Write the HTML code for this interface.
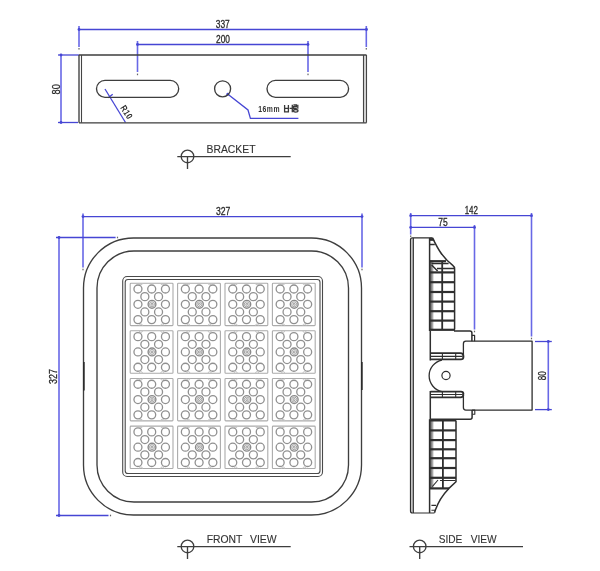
<!DOCTYPE html>
<html><head><meta charset="utf-8"><style>
html,body{margin:0;padding:0;background:#fff;}
svg{display:block;}
text{-webkit-font-smoothing:antialiased;}
</style></head><body>
<svg width="600" height="571" viewBox="0 0 600 571" style="will-change:transform">
<rect width="600" height="571" fill="#fff"/>
<path d="M79 29.5H366.5" stroke="#4646d4" stroke-width="1.3" fill="none"/>
<path d="M79 26V47" stroke="#6868e6" stroke-width="1.6" fill="none"/>
<path d="M366.3 26V47" stroke="#6868e6" stroke-width="1.6" fill="none"/>
<rect x="78.4" y="48.0" width="1.2" height="1.6" fill="#666"/>
<rect x="365.7" y="48.0" width="1.2" height="1.6" fill="#666"/>
<path d="M137.5 44.5H308" stroke="#4646d4" stroke-width="1.3" fill="none"/>
<path d="M137.5 41V72" stroke="#6868e6" stroke-width="1.6" fill="none"/>
<path d="M308 41V72" stroke="#6868e6" stroke-width="1.6" fill="none"/>
<rect x="136.9" y="73.60000000000001" width="1.2" height="1.6" fill="#666"/>
<rect x="307.4" y="73.60000000000001" width="1.2" height="1.6" fill="#666"/>
<path d="M61 55V122.5" stroke="#6868e6" stroke-width="1.6" fill="none"/>
<path d="M58 55H79" stroke="#4646d4" stroke-width="1.3" fill="none"/>
<path d="M58 122.5H78" stroke="#4646d4" stroke-width="1.3" fill="none"/>
<path d="M105 89L125.5 122.5" stroke="#4646d4" stroke-width="1.3" fill="none"/>
<path d="M108.3 97.8L112.7 94.2" stroke="#4646d4" stroke-width="1.3" fill="none"/>
<path d="M227.6 94L248 110L250.4 118.4H298.4" stroke="#4646d4" stroke-width="1.3" fill="none"/>
<circle cx="79" cy="29.5" r="1.4" fill="#4646d4"/>
<circle cx="366.5" cy="29.5" r="1.4" fill="#4646d4"/>
<circle cx="137.5" cy="44.5" r="1.4" fill="#4646d4"/>
<circle cx="308" cy="44.5" r="1.4" fill="#4646d4"/>
<circle cx="61" cy="55" r="1.4" fill="#4646d4"/>
<circle cx="61" cy="122.5" r="1.4" fill="#4646d4"/>
<circle cx="227.8" cy="94.2" r="1.4" fill="#4646d4"/>
<g stroke="#3e3e3e" stroke-width="1.35" fill="none">
<rect x="364" y="55.5" width="2" height="67" fill="#d8d8d8" stroke="none"/>
<path d="M79 55H366.5 M79 122.8H366.5 M79 55V122.8" />
<path d="M366.5 55V122.8 M363.5 55V122.8" stroke-width="1.1" stroke="#454545"/>
<path d="M81.5 55V122.8" stroke-width="1.1" stroke="#454545"/>
<rect x="96.5" y="80.4" width="82.2" height="16.9" rx="8.45" ry="8.45"/>
<rect x="267" y="80.4" width="81.6" height="16.9" rx="8.45" ry="8.45"/>
<circle cx="222.6" cy="88.8" r="8.0"/>
</g>
<text x="215.8" y="27.6" font-family="Liberation Sans, sans-serif" font-size="10.5" fill="#2a2a2a" text-anchor="start" textLength="14" lengthAdjust="spacingAndGlyphs" stroke="#2a2a2a" stroke-width="0.3">337</text>
<text x="216" y="42.8" font-family="Liberation Sans, sans-serif" font-size="10.5" fill="#2a2a2a" text-anchor="start" textLength="14" lengthAdjust="spacingAndGlyphs" stroke="#2a2a2a" stroke-width="0.3">200</text>
<text x="59.7" y="89.3" font-family="Liberation Sans, sans-serif" font-size="10.8" fill="#2a2a2a" text-anchor="middle" textLength="10.3" lengthAdjust="spacingAndGlyphs" transform="rotate(-90 59.7 89.3)" stroke="#2a2a2a" stroke-width="0.3">80</text>
<g transform="translate(123.9 113.9) rotate(58.5)"><text x="0" y="0" transform="scale(0.8 1)" font-family="Liberation Sans, sans-serif" font-size="9.2" fill="#2a2a2a" text-anchor="middle" letter-spacing="0.5" font-weight="bold">R10</text></g>
<text x="258.2" y="111.7" font-family="Liberation Sans, sans-serif" font-size="8.2" fill="#333" text-anchor="start" textLength="21.8" lengthAdjust="spacingAndGlyphs" font-weight="bold" letter-spacing="0.6">16mm</text>
<g stroke="#383838" stroke-width="1.3" fill="none"><path d="M284.6 105V111.8H288.4V105 M284.6 108.3H288.4 M292.3 104.7V112.2 M289.6 108.4H292.3"/><path d="M293.4 105H296.4V106.7H293.6V108.4H296.8 M297.8 104.7V108.8"/><ellipse cx="295.7" cy="110.8" rx="2.3" ry="1.3"/></g>
<g stroke="#3e3e3e" stroke-width="1.35" fill="none"><circle cx="187.5" cy="156.4" r="6.3"/><path d="M177.3 156.6H290.7 M187.5 156.5V169"/></g>
<text x="206.5" y="153.3" font-family="Liberation Sans, sans-serif" font-size="11" fill="#333" text-anchor="start" textLength="49.1" lengthAdjust="spacingAndGlyphs" stroke="#333" stroke-width="0.12">BRACKET</text>
<g stroke="#3e3e3e" stroke-width="1.35" fill="none"><circle cx="187.5" cy="546.4" r="6.3"/><path d="M177.3 546.6H290.7 M187.5 546.5V559"/></g>
<text x="206.7" y="543.3" font-family="Liberation Sans, sans-serif" font-size="11" fill="#333" text-anchor="start" textLength="35.7" lengthAdjust="spacingAndGlyphs" stroke="#333" stroke-width="0.12">FRONT</text>
<text x="250" y="543.3" font-family="Liberation Sans, sans-serif" font-size="11" fill="#333" text-anchor="start" textLength="26.7" lengthAdjust="spacingAndGlyphs" stroke="#333" stroke-width="0.12">VIEW</text>
<g stroke="#3e3e3e" stroke-width="1.35" fill="none"><circle cx="419.7" cy="546.4" r="6.3"/><path d="M409.5 546.6H523 M419.7 546.5V559"/></g>
<text x="438.7" y="543.3" font-family="Liberation Sans, sans-serif" font-size="11" fill="#333" text-anchor="start" textLength="23.6" lengthAdjust="spacingAndGlyphs" stroke="#333" stroke-width="0.12">SIDE</text>
<text x="470.7" y="543.3" font-family="Liberation Sans, sans-serif" font-size="11" fill="#333" text-anchor="start" textLength="26" lengthAdjust="spacingAndGlyphs" stroke="#333" stroke-width="0.12">VIEW</text>
<path d="M83 216.6H362" stroke="#4646d4" stroke-width="1.3" fill="none"/>
<path d="M83 213.6V267.5" stroke="#6868e6" stroke-width="1.6" fill="none"/>
<path d="M362 213.6V267.5" stroke="#6868e6" stroke-width="1.6" fill="none"/>
<rect x="82.4" y="268.7" width="1.2" height="1.6" fill="#666"/>
<rect x="361.4" y="268.7" width="1.2" height="1.6" fill="#666"/>
<path d="M59 237.5V515.5" stroke="#6868e6" stroke-width="1.6" fill="none"/>
<path d="M56 237.5H115.6" stroke="#4646d4" stroke-width="1.3" fill="none"/>
<path d="M56 515.5H108.5" stroke="#4646d4" stroke-width="1.3" fill="none"/>
<rect x="109.9" y="514.7" width="1.2" height="1.6" fill="#666"/>
<rect x="116.9" y="236.7" width="1.2" height="1.6" fill="#666"/>
<circle cx="83" cy="216.6" r="1.4" fill="#4646d4"/>
<circle cx="362" cy="216.6" r="1.4" fill="#4646d4"/>
<circle cx="59" cy="237.5" r="1.4" fill="#4646d4"/>
<circle cx="59" cy="515.5" r="1.4" fill="#4646d4"/>
<text x="215.9" y="214.8" font-family="Liberation Sans, sans-serif" font-size="10.5" fill="#2a2a2a" text-anchor="start" textLength="14.4" lengthAdjust="spacingAndGlyphs" stroke="#2a2a2a" stroke-width="0.3">327</text>
<text x="57.2" y="376.5" font-family="Liberation Sans, sans-serif" font-size="10.5" fill="#2a2a2a" text-anchor="middle" textLength="14.9" lengthAdjust="spacingAndGlyphs" transform="rotate(-90 57.2 376.5)" stroke="#2a2a2a" stroke-width="0.3">327</text>
<g stroke="#3e3e3e" stroke-width="1.35" fill="none">
<rect x="83.5" y="238" width="278" height="277" rx="50" ry="50"/>
<rect x="97" y="251" width="251.5" height="251" rx="37" ry="37"/>
<rect x="122.7" y="276.5" width="199.8" height="200" rx="4.5" ry="4.5" stroke-width="1.1" stroke="#4a4a4a"/>
<rect x="125.2" y="279.5" width="194.8" height="194" rx="2.8" ry="2.8" stroke-width="1.1" stroke="#4a4a4a"/>
</g>
<path d="M84.0 362V390.5 M362.0 362V390" stroke="#222" stroke-width="1.3"/>
<g fill="none">
<rect x="130.2" y="283.2" width="42.8" height="42.4" rx="0.8" stroke="#ababab" stroke-width="1.1"/>
<path d="M139.3 283.2A1.6 1.6 0 0 0 142.5 283.2 M139.3 325.6A1.6 1.6 0 0 1 142.5 325.6 M160.7 283.2A1.6 1.6 0 0 0 163.9 283.2 M160.7 325.6A1.6 1.6 0 0 1 163.9 325.6" stroke="#c4c4c4" stroke-width="1"/>
<circle cx="137.95" cy="289.00" r="4" stroke="#909090" stroke-width="1.3"/>
<circle cx="151.70" cy="289.00" r="4" stroke="#909090" stroke-width="1.3"/>
<circle cx="165.45" cy="289.00" r="4" stroke="#909090" stroke-width="1.3"/>
<circle cx="144.85" cy="296.65" r="4" stroke="#909090" stroke-width="1.3"/>
<circle cx="158.55" cy="296.65" r="4" stroke="#909090" stroke-width="1.3"/>
<circle cx="137.95" cy="304.30" r="4" stroke="#909090" stroke-width="1.3"/>
<circle cx="165.45" cy="304.30" r="4" stroke="#909090" stroke-width="1.3"/>
<circle cx="144.85" cy="311.95" r="4" stroke="#909090" stroke-width="1.3"/>
<circle cx="158.55" cy="311.95" r="4" stroke="#909090" stroke-width="1.3"/>
<circle cx="137.95" cy="319.60" r="4" stroke="#909090" stroke-width="1.3"/>
<circle cx="151.70" cy="319.60" r="4" stroke="#909090" stroke-width="1.3"/>
<circle cx="165.45" cy="319.60" r="4" stroke="#909090" stroke-width="1.3"/>
<circle cx="152.00" cy="304.30" r="3.9" stroke="#8a8a8a" stroke-width="1.4"/>
<circle cx="152.00" cy="304.30" r="2.5" stroke="#a4a4a4" stroke-width="1.0"/>
<circle cx="152.00" cy="304.30" r="1.0" stroke="#8c8c8c" stroke-width="0.9"/>
<rect x="177.6" y="283.2" width="42.8" height="42.4" rx="0.8" stroke="#ababab" stroke-width="1.1"/>
<path d="M186.7 283.2A1.6 1.6 0 0 0 189.9 283.2 M186.7 325.6A1.6 1.6 0 0 1 189.9 325.6 M208.1 283.2A1.6 1.6 0 0 0 211.3 283.2 M208.1 325.6A1.6 1.6 0 0 1 211.3 325.6" stroke="#c4c4c4" stroke-width="1"/>
<circle cx="185.35" cy="289.00" r="4" stroke="#909090" stroke-width="1.3"/>
<circle cx="199.10" cy="289.00" r="4" stroke="#909090" stroke-width="1.3"/>
<circle cx="212.85" cy="289.00" r="4" stroke="#909090" stroke-width="1.3"/>
<circle cx="192.25" cy="296.65" r="4" stroke="#909090" stroke-width="1.3"/>
<circle cx="205.95" cy="296.65" r="4" stroke="#909090" stroke-width="1.3"/>
<circle cx="185.35" cy="304.30" r="4" stroke="#909090" stroke-width="1.3"/>
<circle cx="212.85" cy="304.30" r="4" stroke="#909090" stroke-width="1.3"/>
<circle cx="192.25" cy="311.95" r="4" stroke="#909090" stroke-width="1.3"/>
<circle cx="205.95" cy="311.95" r="4" stroke="#909090" stroke-width="1.3"/>
<circle cx="185.35" cy="319.60" r="4" stroke="#909090" stroke-width="1.3"/>
<circle cx="199.10" cy="319.60" r="4" stroke="#909090" stroke-width="1.3"/>
<circle cx="212.85" cy="319.60" r="4" stroke="#909090" stroke-width="1.3"/>
<circle cx="199.40" cy="304.30" r="3.9" stroke="#8a8a8a" stroke-width="1.4"/>
<circle cx="199.40" cy="304.30" r="2.5" stroke="#a4a4a4" stroke-width="1.0"/>
<circle cx="199.40" cy="304.30" r="1.0" stroke="#8c8c8c" stroke-width="0.9"/>
<rect x="225.0" y="283.2" width="42.8" height="42.4" rx="0.8" stroke="#ababab" stroke-width="1.1"/>
<path d="M234.1 283.2A1.6 1.6 0 0 0 237.3 283.2 M234.1 325.6A1.6 1.6 0 0 1 237.3 325.6 M255.5 283.2A1.6 1.6 0 0 0 258.7 283.2 M255.5 325.6A1.6 1.6 0 0 1 258.7 325.6" stroke="#c4c4c4" stroke-width="1"/>
<circle cx="232.75" cy="289.00" r="4" stroke="#909090" stroke-width="1.3"/>
<circle cx="246.50" cy="289.00" r="4" stroke="#909090" stroke-width="1.3"/>
<circle cx="260.25" cy="289.00" r="4" stroke="#909090" stroke-width="1.3"/>
<circle cx="239.65" cy="296.65" r="4" stroke="#909090" stroke-width="1.3"/>
<circle cx="253.35" cy="296.65" r="4" stroke="#909090" stroke-width="1.3"/>
<circle cx="232.75" cy="304.30" r="4" stroke="#909090" stroke-width="1.3"/>
<circle cx="260.25" cy="304.30" r="4" stroke="#909090" stroke-width="1.3"/>
<circle cx="239.65" cy="311.95" r="4" stroke="#909090" stroke-width="1.3"/>
<circle cx="253.35" cy="311.95" r="4" stroke="#909090" stroke-width="1.3"/>
<circle cx="232.75" cy="319.60" r="4" stroke="#909090" stroke-width="1.3"/>
<circle cx="246.50" cy="319.60" r="4" stroke="#909090" stroke-width="1.3"/>
<circle cx="260.25" cy="319.60" r="4" stroke="#909090" stroke-width="1.3"/>
<circle cx="246.80" cy="304.30" r="3.9" stroke="#8a8a8a" stroke-width="1.4"/>
<circle cx="246.80" cy="304.30" r="2.5" stroke="#a4a4a4" stroke-width="1.0"/>
<circle cx="246.80" cy="304.30" r="1.0" stroke="#8c8c8c" stroke-width="0.9"/>
<rect x="272.4" y="283.2" width="42.8" height="42.4" rx="0.8" stroke="#ababab" stroke-width="1.1"/>
<path d="M281.5 283.2A1.6 1.6 0 0 0 284.7 283.2 M281.5 325.6A1.6 1.6 0 0 1 284.7 325.6 M302.9 283.2A1.6 1.6 0 0 0 306.1 283.2 M302.9 325.6A1.6 1.6 0 0 1 306.1 325.6" stroke="#c4c4c4" stroke-width="1"/>
<circle cx="280.15" cy="289.00" r="4" stroke="#909090" stroke-width="1.3"/>
<circle cx="293.90" cy="289.00" r="4" stroke="#909090" stroke-width="1.3"/>
<circle cx="307.65" cy="289.00" r="4" stroke="#909090" stroke-width="1.3"/>
<circle cx="287.05" cy="296.65" r="4" stroke="#909090" stroke-width="1.3"/>
<circle cx="300.75" cy="296.65" r="4" stroke="#909090" stroke-width="1.3"/>
<circle cx="280.15" cy="304.30" r="4" stroke="#909090" stroke-width="1.3"/>
<circle cx="307.65" cy="304.30" r="4" stroke="#909090" stroke-width="1.3"/>
<circle cx="287.05" cy="311.95" r="4" stroke="#909090" stroke-width="1.3"/>
<circle cx="300.75" cy="311.95" r="4" stroke="#909090" stroke-width="1.3"/>
<circle cx="280.15" cy="319.60" r="4" stroke="#909090" stroke-width="1.3"/>
<circle cx="293.90" cy="319.60" r="4" stroke="#909090" stroke-width="1.3"/>
<circle cx="307.65" cy="319.60" r="4" stroke="#909090" stroke-width="1.3"/>
<circle cx="294.20" cy="304.30" r="3.9" stroke="#8a8a8a" stroke-width="1.4"/>
<circle cx="294.20" cy="304.30" r="2.5" stroke="#a4a4a4" stroke-width="1.0"/>
<circle cx="294.20" cy="304.30" r="1.0" stroke="#8c8c8c" stroke-width="0.9"/>
<rect x="130.2" y="330.8" width="42.8" height="42.4" rx="0.8" stroke="#ababab" stroke-width="1.1"/>
<path d="M139.3 330.8A1.6 1.6 0 0 0 142.5 330.8 M139.3 373.2A1.6 1.6 0 0 1 142.5 373.2 M160.7 330.8A1.6 1.6 0 0 0 163.9 330.8 M160.7 373.2A1.6 1.6 0 0 1 163.9 373.2" stroke="#c4c4c4" stroke-width="1"/>
<circle cx="137.95" cy="336.63" r="4" stroke="#909090" stroke-width="1.3"/>
<circle cx="151.70" cy="336.63" r="4" stroke="#909090" stroke-width="1.3"/>
<circle cx="165.45" cy="336.63" r="4" stroke="#909090" stroke-width="1.3"/>
<circle cx="144.85" cy="344.28" r="4" stroke="#909090" stroke-width="1.3"/>
<circle cx="158.55" cy="344.28" r="4" stroke="#909090" stroke-width="1.3"/>
<circle cx="137.95" cy="351.93" r="4" stroke="#909090" stroke-width="1.3"/>
<circle cx="165.45" cy="351.93" r="4" stroke="#909090" stroke-width="1.3"/>
<circle cx="144.85" cy="359.58" r="4" stroke="#909090" stroke-width="1.3"/>
<circle cx="158.55" cy="359.58" r="4" stroke="#909090" stroke-width="1.3"/>
<circle cx="137.95" cy="367.23" r="4" stroke="#909090" stroke-width="1.3"/>
<circle cx="151.70" cy="367.23" r="4" stroke="#909090" stroke-width="1.3"/>
<circle cx="165.45" cy="367.23" r="4" stroke="#909090" stroke-width="1.3"/>
<circle cx="152.00" cy="351.93" r="3.9" stroke="#8a8a8a" stroke-width="1.4"/>
<circle cx="152.00" cy="351.93" r="2.5" stroke="#a4a4a4" stroke-width="1.0"/>
<circle cx="152.00" cy="351.93" r="1.0" stroke="#8c8c8c" stroke-width="0.9"/>
<rect x="177.6" y="330.8" width="42.8" height="42.4" rx="0.8" stroke="#ababab" stroke-width="1.1"/>
<path d="M186.7 330.8A1.6 1.6 0 0 0 189.9 330.8 M186.7 373.2A1.6 1.6 0 0 1 189.9 373.2 M208.1 330.8A1.6 1.6 0 0 0 211.3 330.8 M208.1 373.2A1.6 1.6 0 0 1 211.3 373.2" stroke="#c4c4c4" stroke-width="1"/>
<circle cx="185.35" cy="336.63" r="4" stroke="#909090" stroke-width="1.3"/>
<circle cx="199.10" cy="336.63" r="4" stroke="#909090" stroke-width="1.3"/>
<circle cx="212.85" cy="336.63" r="4" stroke="#909090" stroke-width="1.3"/>
<circle cx="192.25" cy="344.28" r="4" stroke="#909090" stroke-width="1.3"/>
<circle cx="205.95" cy="344.28" r="4" stroke="#909090" stroke-width="1.3"/>
<circle cx="185.35" cy="351.93" r="4" stroke="#909090" stroke-width="1.3"/>
<circle cx="212.85" cy="351.93" r="4" stroke="#909090" stroke-width="1.3"/>
<circle cx="192.25" cy="359.58" r="4" stroke="#909090" stroke-width="1.3"/>
<circle cx="205.95" cy="359.58" r="4" stroke="#909090" stroke-width="1.3"/>
<circle cx="185.35" cy="367.23" r="4" stroke="#909090" stroke-width="1.3"/>
<circle cx="199.10" cy="367.23" r="4" stroke="#909090" stroke-width="1.3"/>
<circle cx="212.85" cy="367.23" r="4" stroke="#909090" stroke-width="1.3"/>
<circle cx="199.40" cy="351.93" r="3.9" stroke="#8a8a8a" stroke-width="1.4"/>
<circle cx="199.40" cy="351.93" r="2.5" stroke="#a4a4a4" stroke-width="1.0"/>
<circle cx="199.40" cy="351.93" r="1.0" stroke="#8c8c8c" stroke-width="0.9"/>
<rect x="225.0" y="330.8" width="42.8" height="42.4" rx="0.8" stroke="#ababab" stroke-width="1.1"/>
<path d="M234.1 330.8A1.6 1.6 0 0 0 237.3 330.8 M234.1 373.2A1.6 1.6 0 0 1 237.3 373.2 M255.5 330.8A1.6 1.6 0 0 0 258.7 330.8 M255.5 373.2A1.6 1.6 0 0 1 258.7 373.2" stroke="#c4c4c4" stroke-width="1"/>
<circle cx="232.75" cy="336.63" r="4" stroke="#909090" stroke-width="1.3"/>
<circle cx="246.50" cy="336.63" r="4" stroke="#909090" stroke-width="1.3"/>
<circle cx="260.25" cy="336.63" r="4" stroke="#909090" stroke-width="1.3"/>
<circle cx="239.65" cy="344.28" r="4" stroke="#909090" stroke-width="1.3"/>
<circle cx="253.35" cy="344.28" r="4" stroke="#909090" stroke-width="1.3"/>
<circle cx="232.75" cy="351.93" r="4" stroke="#909090" stroke-width="1.3"/>
<circle cx="260.25" cy="351.93" r="4" stroke="#909090" stroke-width="1.3"/>
<circle cx="239.65" cy="359.58" r="4" stroke="#909090" stroke-width="1.3"/>
<circle cx="253.35" cy="359.58" r="4" stroke="#909090" stroke-width="1.3"/>
<circle cx="232.75" cy="367.23" r="4" stroke="#909090" stroke-width="1.3"/>
<circle cx="246.50" cy="367.23" r="4" stroke="#909090" stroke-width="1.3"/>
<circle cx="260.25" cy="367.23" r="4" stroke="#909090" stroke-width="1.3"/>
<circle cx="246.80" cy="351.93" r="3.9" stroke="#8a8a8a" stroke-width="1.4"/>
<circle cx="246.80" cy="351.93" r="2.5" stroke="#a4a4a4" stroke-width="1.0"/>
<circle cx="246.80" cy="351.93" r="1.0" stroke="#8c8c8c" stroke-width="0.9"/>
<rect x="272.4" y="330.8" width="42.8" height="42.4" rx="0.8" stroke="#ababab" stroke-width="1.1"/>
<path d="M281.5 330.8A1.6 1.6 0 0 0 284.7 330.8 M281.5 373.2A1.6 1.6 0 0 1 284.7 373.2 M302.9 330.8A1.6 1.6 0 0 0 306.1 330.8 M302.9 373.2A1.6 1.6 0 0 1 306.1 373.2" stroke="#c4c4c4" stroke-width="1"/>
<circle cx="280.15" cy="336.63" r="4" stroke="#909090" stroke-width="1.3"/>
<circle cx="293.90" cy="336.63" r="4" stroke="#909090" stroke-width="1.3"/>
<circle cx="307.65" cy="336.63" r="4" stroke="#909090" stroke-width="1.3"/>
<circle cx="287.05" cy="344.28" r="4" stroke="#909090" stroke-width="1.3"/>
<circle cx="300.75" cy="344.28" r="4" stroke="#909090" stroke-width="1.3"/>
<circle cx="280.15" cy="351.93" r="4" stroke="#909090" stroke-width="1.3"/>
<circle cx="307.65" cy="351.93" r="4" stroke="#909090" stroke-width="1.3"/>
<circle cx="287.05" cy="359.58" r="4" stroke="#909090" stroke-width="1.3"/>
<circle cx="300.75" cy="359.58" r="4" stroke="#909090" stroke-width="1.3"/>
<circle cx="280.15" cy="367.23" r="4" stroke="#909090" stroke-width="1.3"/>
<circle cx="293.90" cy="367.23" r="4" stroke="#909090" stroke-width="1.3"/>
<circle cx="307.65" cy="367.23" r="4" stroke="#909090" stroke-width="1.3"/>
<circle cx="294.20" cy="351.93" r="3.9" stroke="#8a8a8a" stroke-width="1.4"/>
<circle cx="294.20" cy="351.93" r="2.5" stroke="#a4a4a4" stroke-width="1.0"/>
<circle cx="294.20" cy="351.93" r="1.0" stroke="#8c8c8c" stroke-width="0.9"/>
<rect x="130.2" y="378.5" width="42.8" height="42.4" rx="0.8" stroke="#ababab" stroke-width="1.1"/>
<path d="M139.3 378.5A1.6 1.6 0 0 0 142.5 378.5 M139.3 420.9A1.6 1.6 0 0 1 142.5 420.9 M160.7 378.5A1.6 1.6 0 0 0 163.9 378.5 M160.7 420.9A1.6 1.6 0 0 1 163.9 420.9" stroke="#c4c4c4" stroke-width="1"/>
<circle cx="137.95" cy="384.26" r="4" stroke="#909090" stroke-width="1.3"/>
<circle cx="151.70" cy="384.26" r="4" stroke="#909090" stroke-width="1.3"/>
<circle cx="165.45" cy="384.26" r="4" stroke="#909090" stroke-width="1.3"/>
<circle cx="144.85" cy="391.91" r="4" stroke="#909090" stroke-width="1.3"/>
<circle cx="158.55" cy="391.91" r="4" stroke="#909090" stroke-width="1.3"/>
<circle cx="137.95" cy="399.56" r="4" stroke="#909090" stroke-width="1.3"/>
<circle cx="165.45" cy="399.56" r="4" stroke="#909090" stroke-width="1.3"/>
<circle cx="144.85" cy="407.21" r="4" stroke="#909090" stroke-width="1.3"/>
<circle cx="158.55" cy="407.21" r="4" stroke="#909090" stroke-width="1.3"/>
<circle cx="137.95" cy="414.86" r="4" stroke="#909090" stroke-width="1.3"/>
<circle cx="151.70" cy="414.86" r="4" stroke="#909090" stroke-width="1.3"/>
<circle cx="165.45" cy="414.86" r="4" stroke="#909090" stroke-width="1.3"/>
<circle cx="152.00" cy="399.56" r="3.9" stroke="#8a8a8a" stroke-width="1.4"/>
<circle cx="152.00" cy="399.56" r="2.5" stroke="#a4a4a4" stroke-width="1.0"/>
<circle cx="152.00" cy="399.56" r="1.0" stroke="#8c8c8c" stroke-width="0.9"/>
<rect x="177.6" y="378.5" width="42.8" height="42.4" rx="0.8" stroke="#ababab" stroke-width="1.1"/>
<path d="M186.7 378.5A1.6 1.6 0 0 0 189.9 378.5 M186.7 420.9A1.6 1.6 0 0 1 189.9 420.9 M208.1 378.5A1.6 1.6 0 0 0 211.3 378.5 M208.1 420.9A1.6 1.6 0 0 1 211.3 420.9" stroke="#c4c4c4" stroke-width="1"/>
<circle cx="185.35" cy="384.26" r="4" stroke="#909090" stroke-width="1.3"/>
<circle cx="199.10" cy="384.26" r="4" stroke="#909090" stroke-width="1.3"/>
<circle cx="212.85" cy="384.26" r="4" stroke="#909090" stroke-width="1.3"/>
<circle cx="192.25" cy="391.91" r="4" stroke="#909090" stroke-width="1.3"/>
<circle cx="205.95" cy="391.91" r="4" stroke="#909090" stroke-width="1.3"/>
<circle cx="185.35" cy="399.56" r="4" stroke="#909090" stroke-width="1.3"/>
<circle cx="212.85" cy="399.56" r="4" stroke="#909090" stroke-width="1.3"/>
<circle cx="192.25" cy="407.21" r="4" stroke="#909090" stroke-width="1.3"/>
<circle cx="205.95" cy="407.21" r="4" stroke="#909090" stroke-width="1.3"/>
<circle cx="185.35" cy="414.86" r="4" stroke="#909090" stroke-width="1.3"/>
<circle cx="199.10" cy="414.86" r="4" stroke="#909090" stroke-width="1.3"/>
<circle cx="212.85" cy="414.86" r="4" stroke="#909090" stroke-width="1.3"/>
<circle cx="199.40" cy="399.56" r="3.9" stroke="#8a8a8a" stroke-width="1.4"/>
<circle cx="199.40" cy="399.56" r="2.5" stroke="#a4a4a4" stroke-width="1.0"/>
<circle cx="199.40" cy="399.56" r="1.0" stroke="#8c8c8c" stroke-width="0.9"/>
<rect x="225.0" y="378.5" width="42.8" height="42.4" rx="0.8" stroke="#ababab" stroke-width="1.1"/>
<path d="M234.1 378.5A1.6 1.6 0 0 0 237.3 378.5 M234.1 420.9A1.6 1.6 0 0 1 237.3 420.9 M255.5 378.5A1.6 1.6 0 0 0 258.7 378.5 M255.5 420.9A1.6 1.6 0 0 1 258.7 420.9" stroke="#c4c4c4" stroke-width="1"/>
<circle cx="232.75" cy="384.26" r="4" stroke="#909090" stroke-width="1.3"/>
<circle cx="246.50" cy="384.26" r="4" stroke="#909090" stroke-width="1.3"/>
<circle cx="260.25" cy="384.26" r="4" stroke="#909090" stroke-width="1.3"/>
<circle cx="239.65" cy="391.91" r="4" stroke="#909090" stroke-width="1.3"/>
<circle cx="253.35" cy="391.91" r="4" stroke="#909090" stroke-width="1.3"/>
<circle cx="232.75" cy="399.56" r="4" stroke="#909090" stroke-width="1.3"/>
<circle cx="260.25" cy="399.56" r="4" stroke="#909090" stroke-width="1.3"/>
<circle cx="239.65" cy="407.21" r="4" stroke="#909090" stroke-width="1.3"/>
<circle cx="253.35" cy="407.21" r="4" stroke="#909090" stroke-width="1.3"/>
<circle cx="232.75" cy="414.86" r="4" stroke="#909090" stroke-width="1.3"/>
<circle cx="246.50" cy="414.86" r="4" stroke="#909090" stroke-width="1.3"/>
<circle cx="260.25" cy="414.86" r="4" stroke="#909090" stroke-width="1.3"/>
<circle cx="246.80" cy="399.56" r="3.9" stroke="#8a8a8a" stroke-width="1.4"/>
<circle cx="246.80" cy="399.56" r="2.5" stroke="#a4a4a4" stroke-width="1.0"/>
<circle cx="246.80" cy="399.56" r="1.0" stroke="#8c8c8c" stroke-width="0.9"/>
<rect x="272.4" y="378.5" width="42.8" height="42.4" rx="0.8" stroke="#ababab" stroke-width="1.1"/>
<path d="M281.5 378.5A1.6 1.6 0 0 0 284.7 378.5 M281.5 420.9A1.6 1.6 0 0 1 284.7 420.9 M302.9 378.5A1.6 1.6 0 0 0 306.1 378.5 M302.9 420.9A1.6 1.6 0 0 1 306.1 420.9" stroke="#c4c4c4" stroke-width="1"/>
<circle cx="280.15" cy="384.26" r="4" stroke="#909090" stroke-width="1.3"/>
<circle cx="293.90" cy="384.26" r="4" stroke="#909090" stroke-width="1.3"/>
<circle cx="307.65" cy="384.26" r="4" stroke="#909090" stroke-width="1.3"/>
<circle cx="287.05" cy="391.91" r="4" stroke="#909090" stroke-width="1.3"/>
<circle cx="300.75" cy="391.91" r="4" stroke="#909090" stroke-width="1.3"/>
<circle cx="280.15" cy="399.56" r="4" stroke="#909090" stroke-width="1.3"/>
<circle cx="307.65" cy="399.56" r="4" stroke="#909090" stroke-width="1.3"/>
<circle cx="287.05" cy="407.21" r="4" stroke="#909090" stroke-width="1.3"/>
<circle cx="300.75" cy="407.21" r="4" stroke="#909090" stroke-width="1.3"/>
<circle cx="280.15" cy="414.86" r="4" stroke="#909090" stroke-width="1.3"/>
<circle cx="293.90" cy="414.86" r="4" stroke="#909090" stroke-width="1.3"/>
<circle cx="307.65" cy="414.86" r="4" stroke="#909090" stroke-width="1.3"/>
<circle cx="294.20" cy="399.56" r="3.9" stroke="#8a8a8a" stroke-width="1.4"/>
<circle cx="294.20" cy="399.56" r="2.5" stroke="#a4a4a4" stroke-width="1.0"/>
<circle cx="294.20" cy="399.56" r="1.0" stroke="#8c8c8c" stroke-width="0.9"/>
<rect x="130.2" y="426.1" width="42.8" height="42.4" rx="0.8" stroke="#ababab" stroke-width="1.1"/>
<path d="M139.3 426.1A1.6 1.6 0 0 0 142.5 426.1 M139.3 468.5A1.6 1.6 0 0 1 142.5 468.5 M160.7 426.1A1.6 1.6 0 0 0 163.9 426.1 M160.7 468.5A1.6 1.6 0 0 1 163.9 468.5" stroke="#c4c4c4" stroke-width="1"/>
<circle cx="137.95" cy="431.89" r="4" stroke="#909090" stroke-width="1.3"/>
<circle cx="151.70" cy="431.89" r="4" stroke="#909090" stroke-width="1.3"/>
<circle cx="165.45" cy="431.89" r="4" stroke="#909090" stroke-width="1.3"/>
<circle cx="144.85" cy="439.54" r="4" stroke="#909090" stroke-width="1.3"/>
<circle cx="158.55" cy="439.54" r="4" stroke="#909090" stroke-width="1.3"/>
<circle cx="137.95" cy="447.19" r="4" stroke="#909090" stroke-width="1.3"/>
<circle cx="165.45" cy="447.19" r="4" stroke="#909090" stroke-width="1.3"/>
<circle cx="144.85" cy="454.84" r="4" stroke="#909090" stroke-width="1.3"/>
<circle cx="158.55" cy="454.84" r="4" stroke="#909090" stroke-width="1.3"/>
<circle cx="137.95" cy="462.49" r="4" stroke="#909090" stroke-width="1.3"/>
<circle cx="151.70" cy="462.49" r="4" stroke="#909090" stroke-width="1.3"/>
<circle cx="165.45" cy="462.49" r="4" stroke="#909090" stroke-width="1.3"/>
<circle cx="152.00" cy="447.19" r="3.9" stroke="#8a8a8a" stroke-width="1.4"/>
<circle cx="152.00" cy="447.19" r="2.5" stroke="#a4a4a4" stroke-width="1.0"/>
<circle cx="152.00" cy="447.19" r="1.0" stroke="#8c8c8c" stroke-width="0.9"/>
<rect x="177.6" y="426.1" width="42.8" height="42.4" rx="0.8" stroke="#ababab" stroke-width="1.1"/>
<path d="M186.7 426.1A1.6 1.6 0 0 0 189.9 426.1 M186.7 468.5A1.6 1.6 0 0 1 189.9 468.5 M208.1 426.1A1.6 1.6 0 0 0 211.3 426.1 M208.1 468.5A1.6 1.6 0 0 1 211.3 468.5" stroke="#c4c4c4" stroke-width="1"/>
<circle cx="185.35" cy="431.89" r="4" stroke="#909090" stroke-width="1.3"/>
<circle cx="199.10" cy="431.89" r="4" stroke="#909090" stroke-width="1.3"/>
<circle cx="212.85" cy="431.89" r="4" stroke="#909090" stroke-width="1.3"/>
<circle cx="192.25" cy="439.54" r="4" stroke="#909090" stroke-width="1.3"/>
<circle cx="205.95" cy="439.54" r="4" stroke="#909090" stroke-width="1.3"/>
<circle cx="185.35" cy="447.19" r="4" stroke="#909090" stroke-width="1.3"/>
<circle cx="212.85" cy="447.19" r="4" stroke="#909090" stroke-width="1.3"/>
<circle cx="192.25" cy="454.84" r="4" stroke="#909090" stroke-width="1.3"/>
<circle cx="205.95" cy="454.84" r="4" stroke="#909090" stroke-width="1.3"/>
<circle cx="185.35" cy="462.49" r="4" stroke="#909090" stroke-width="1.3"/>
<circle cx="199.10" cy="462.49" r="4" stroke="#909090" stroke-width="1.3"/>
<circle cx="212.85" cy="462.49" r="4" stroke="#909090" stroke-width="1.3"/>
<circle cx="199.40" cy="447.19" r="3.9" stroke="#8a8a8a" stroke-width="1.4"/>
<circle cx="199.40" cy="447.19" r="2.5" stroke="#a4a4a4" stroke-width="1.0"/>
<circle cx="199.40" cy="447.19" r="1.0" stroke="#8c8c8c" stroke-width="0.9"/>
<rect x="225.0" y="426.1" width="42.8" height="42.4" rx="0.8" stroke="#ababab" stroke-width="1.1"/>
<path d="M234.1 426.1A1.6 1.6 0 0 0 237.3 426.1 M234.1 468.5A1.6 1.6 0 0 1 237.3 468.5 M255.5 426.1A1.6 1.6 0 0 0 258.7 426.1 M255.5 468.5A1.6 1.6 0 0 1 258.7 468.5" stroke="#c4c4c4" stroke-width="1"/>
<circle cx="232.75" cy="431.89" r="4" stroke="#909090" stroke-width="1.3"/>
<circle cx="246.50" cy="431.89" r="4" stroke="#909090" stroke-width="1.3"/>
<circle cx="260.25" cy="431.89" r="4" stroke="#909090" stroke-width="1.3"/>
<circle cx="239.65" cy="439.54" r="4" stroke="#909090" stroke-width="1.3"/>
<circle cx="253.35" cy="439.54" r="4" stroke="#909090" stroke-width="1.3"/>
<circle cx="232.75" cy="447.19" r="4" stroke="#909090" stroke-width="1.3"/>
<circle cx="260.25" cy="447.19" r="4" stroke="#909090" stroke-width="1.3"/>
<circle cx="239.65" cy="454.84" r="4" stroke="#909090" stroke-width="1.3"/>
<circle cx="253.35" cy="454.84" r="4" stroke="#909090" stroke-width="1.3"/>
<circle cx="232.75" cy="462.49" r="4" stroke="#909090" stroke-width="1.3"/>
<circle cx="246.50" cy="462.49" r="4" stroke="#909090" stroke-width="1.3"/>
<circle cx="260.25" cy="462.49" r="4" stroke="#909090" stroke-width="1.3"/>
<circle cx="246.80" cy="447.19" r="3.9" stroke="#8a8a8a" stroke-width="1.4"/>
<circle cx="246.80" cy="447.19" r="2.5" stroke="#a4a4a4" stroke-width="1.0"/>
<circle cx="246.80" cy="447.19" r="1.0" stroke="#8c8c8c" stroke-width="0.9"/>
<rect x="272.4" y="426.1" width="42.8" height="42.4" rx="0.8" stroke="#ababab" stroke-width="1.1"/>
<path d="M281.5 426.1A1.6 1.6 0 0 0 284.7 426.1 M281.5 468.5A1.6 1.6 0 0 1 284.7 468.5 M302.9 426.1A1.6 1.6 0 0 0 306.1 426.1 M302.9 468.5A1.6 1.6 0 0 1 306.1 468.5" stroke="#c4c4c4" stroke-width="1"/>
<circle cx="280.15" cy="431.89" r="4" stroke="#909090" stroke-width="1.3"/>
<circle cx="293.90" cy="431.89" r="4" stroke="#909090" stroke-width="1.3"/>
<circle cx="307.65" cy="431.89" r="4" stroke="#909090" stroke-width="1.3"/>
<circle cx="287.05" cy="439.54" r="4" stroke="#909090" stroke-width="1.3"/>
<circle cx="300.75" cy="439.54" r="4" stroke="#909090" stroke-width="1.3"/>
<circle cx="280.15" cy="447.19" r="4" stroke="#909090" stroke-width="1.3"/>
<circle cx="307.65" cy="447.19" r="4" stroke="#909090" stroke-width="1.3"/>
<circle cx="287.05" cy="454.84" r="4" stroke="#909090" stroke-width="1.3"/>
<circle cx="300.75" cy="454.84" r="4" stroke="#909090" stroke-width="1.3"/>
<circle cx="280.15" cy="462.49" r="4" stroke="#909090" stroke-width="1.3"/>
<circle cx="293.90" cy="462.49" r="4" stroke="#909090" stroke-width="1.3"/>
<circle cx="307.65" cy="462.49" r="4" stroke="#909090" stroke-width="1.3"/>
<circle cx="294.20" cy="447.19" r="3.9" stroke="#8a8a8a" stroke-width="1.4"/>
<circle cx="294.20" cy="447.19" r="2.5" stroke="#a4a4a4" stroke-width="1.0"/>
<circle cx="294.20" cy="447.19" r="1.0" stroke="#8c8c8c" stroke-width="0.9"/>
</g>
<path d="M410.7 215.7H531.5" stroke="#4646d4" stroke-width="1.3" fill="none"/>
<path d="M410.7 213V234.5" stroke="#6868e6" stroke-width="1.6" fill="none"/>
<path d="M531.5 213V336.5" stroke="#6868e6" stroke-width="1.6" fill="none"/>
<rect x="410.09999999999997" y="235.5" width="1.2" height="1.6" fill="#666"/>
<rect x="530.9" y="337.7" width="1.2" height="1.6" fill="#666"/>
<path d="M410.7 227.4H474.5" stroke="#4646d4" stroke-width="1.3" fill="none"/>
<path d="M474.5 225V329.5" stroke="#6868e6" stroke-width="1.6" fill="none"/>
<rect x="473.9" y="330.7" width="1.2" height="1.6" fill="#666"/>
<path d="M548.3 341.5V409.6" stroke="#6868e6" stroke-width="1.6" fill="none"/>
<path d="M535 341.5H551.8" stroke="#4646d4" stroke-width="1.3" fill="none"/>
<path d="M535 409.6H551.8" stroke="#4646d4" stroke-width="1.3" fill="none"/>
<circle cx="410.7" cy="215.7" r="1.4" fill="#4646d4"/>
<circle cx="531.5" cy="215.7" r="1.4" fill="#4646d4"/>
<circle cx="410.7" cy="227.4" r="1.4" fill="#4646d4"/>
<circle cx="474.5" cy="227.4" r="1.4" fill="#4646d4"/>
<circle cx="548.3" cy="341.5" r="1.4" fill="#4646d4"/>
<circle cx="548.3" cy="409.6" r="1.4" fill="#4646d4"/>
<text x="464.7" y="213.7" font-family="Liberation Sans, sans-serif" font-size="10.5" fill="#2a2a2a" text-anchor="start" textLength="13.3" lengthAdjust="spacingAndGlyphs" stroke="#2a2a2a" stroke-width="0.3">142</text>
<text x="438.3" y="225.8" font-family="Liberation Sans, sans-serif" font-size="10.5" fill="#2a2a2a" text-anchor="start" textLength="9.5" lengthAdjust="spacingAndGlyphs" stroke="#2a2a2a" stroke-width="0.3">75</text>
<text x="546.2" y="375.7" font-family="Liberation Sans, sans-serif" font-size="10.2" fill="#2a2a2a" text-anchor="middle" textLength="9" lengthAdjust="spacingAndGlyphs" transform="rotate(-90 546.2 375.7)" stroke="#2a2a2a" stroke-width="0.3">80</text>
<defs><linearGradient id="cg" x1="0" x2="1" y1="0" y2="0"><stop offset="0" stop-color="#2e2e2e"/><stop offset="0.35" stop-color="#6a6a6a"/><stop offset="1" stop-color="#d0d0d0"/></linearGradient></defs>
<rect x="411" y="238.5" width="2.4" height="274" fill="#d4d4d4"/>
<rect x="429.3" y="260.5" width="4.3" height="69.5" fill="url(#cg)"/>
<rect x="429.3" y="420" width="4.3" height="68.5" fill="url(#cg)"/>
<g stroke="#2e2e2e" stroke-width="1.2" fill="none" stroke-linejoin="round">
<path d="M432.5 237.8H412.5Q410.5 237.8 410.5 239.8V511Q410.5 513 412.5 513H434.5"/>
<path d="M413.3 238V513"/>
</g>
<g stroke="#2e2e2e" stroke-width="1.5" fill="none" stroke-linejoin="round">
<path d="M432.5 237.8C437.5 248 442 257 452.5 265.2Q454.6 266.8 454.6 269V329.6"/>
<path d="M429.5 244.5H434.8"/>
<path d="M429.5 238.2H432.8L434.2 240.4H429.5Z" fill="#333" stroke-width="0.8"/>
<path d="M429.6 238V331 M430.3 331V360.5 M430.3 391V419.3 M429.6 419.3V513"/>
<path d="M431.5 263.4H448.6 M437 268.5H454 M431.6 265L437.6 271"/>
<path d="M442.2 261V329.6" stroke-width="1.8"/>
<path d="M454 330.9H469.9Q471.9 330.9 471.9 332.9V341.3"/>
<path d="M472 335.4H474.6V341.3" stroke-width="1.2"/>
<path d="M430.3 419.3H470.1Q472.1 419.3 472.1 417.3V410.1"/>
<path d="M472.1 410.1H474.8V414.3H472.3" stroke-width="1.1"/>
<path d="M463.4 358V343.7Q463.4 341.2 465.9 341.2H532.1V410.1H465.9Q463.4 410.1 463.4 407.6V393" stroke-width="1.3"/>
<path d="M430.5 353.1H460.4Q463.4 353.1 463.4 356.1V357 M430.5 359.4H461Q463.4 359.4 463.4 357" stroke-width="1.8"/>
<path d="M430.5 356.4H462.5" stroke-width="1.1"/>
<path d="M442.4 353.1V359.4 M455.7 353.1V359.4" stroke-width="1.1"/>
<path d="M430.5 391.6H461Q463.4 391.6 463.4 394 M430.5 397.3H460.5Q463.4 397.3 463.4 394.5" stroke-width="1.8"/>
<path d="M430.5 394.5H462.8" stroke-width="1.1"/>
<path d="M442.4 391.6V397.3 M455.7 391.6V397.3" stroke-width="1.1"/>
<path d="M441.9 360.1A16.1 16.1 0 0 0 441.9 391.6" stroke-width="1.3"/>
<circle cx="446" cy="375.5" r="4.1" stroke-width="1.2"/>
<path d="M442.9 420.6V488.4" stroke-width="1.8"/>
<path d="M456 420.6V481.8L448.9 488.4C442.5 495 437 504 434.5 512.8"/>
<path d="M440 480.5H455.5 M432.3 486.6L438 480" stroke-width="1.1"/>
<path d="M431.4 505.4H436 M431.4 510.3H435" stroke-width="1.1"/>
</g>
<g stroke="#2e2e2e" stroke-width="2.2" fill="none">
<path d="M430 261.2H446"/>
<path d="M430 272.4H455"/>
<path d="M430 282.2H455"/>
<path d="M430 292.0H455"/>
<path d="M430 301.6H455"/>
<path d="M430 311.2H455"/>
<path d="M430 320.6H455"/>
<path d="M430 329.8H455"/>
<path d="M430 420.4H456"/>
<path d="M430 430.4H456"/>
<path d="M430 440.1H456"/>
<path d="M430 449.3H456"/>
<path d="M430 458.2H456"/>
<path d="M430 468.0H456"/>
<path d="M430 477.8H456"/>
<path d="M430 488.4H449"/>
</g>
</svg></body></html>
